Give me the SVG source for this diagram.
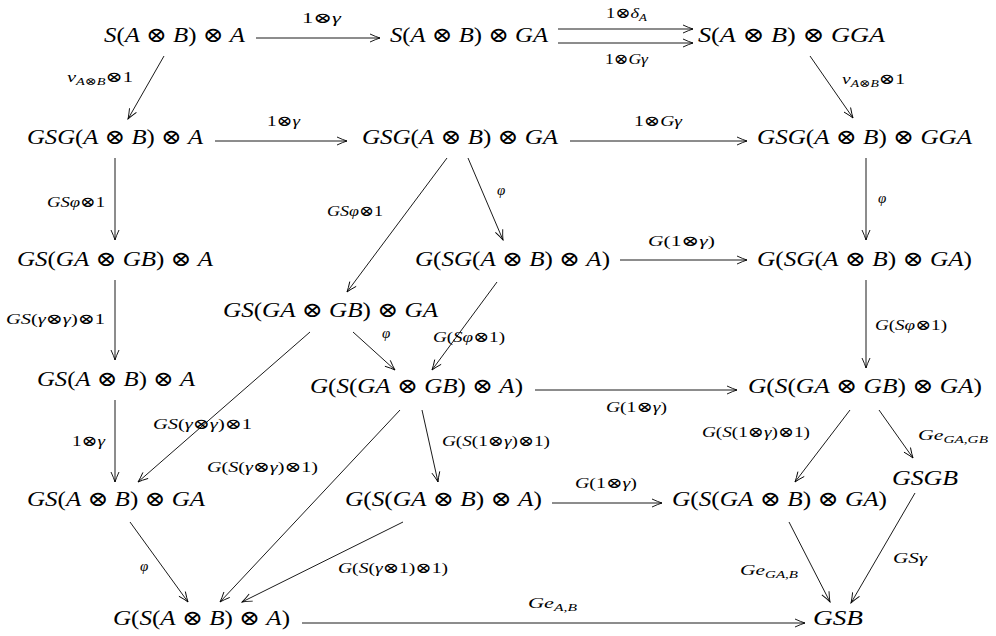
<svg xmlns="http://www.w3.org/2000/svg" width="996" height="636" viewBox="0 0 996 636">
  <defs>
    <style>
      text { font-family: 'Liberation Serif', 'Times New Roman', 'DejaVu Serif', serif; font-style: italic; fill: #000; }
      .n { font-size: 21px; }
      .l { font-size: 15px; }
      .u { font-style: normal; }
      .s { font-size: 10.5px; }
      .c line { stroke: #000; stroke-width: 0.9; fill: none; marker-end: url(#tip); }
    </style>
    <marker id="tip" markerUnits="userSpaceOnUse" viewBox="-11 -5 12 10" refX="0" refY="0" markerWidth="12" markerHeight="10" orient="auto">
      <path d="M -10,-4 Q -4,-1.2 0,0 Q -4,1.2 -10,4" fill="none" stroke="#000" stroke-width="0.9"/>
    </marker>
  </defs>
  <rect width="996" height="636" fill="#fff"/>

  <!-- connectors -->
  <g id="connectors" class="c">
    <line x1="256" y1="38" x2="380" y2="38"/>
    <line x1="558" y1="29" x2="693" y2="29"/>
    <line x1="558" y1="43" x2="693" y2="43"/>
    <line x1="164" y1="56" x2="128" y2="119"/>
    <line x1="810" y1="56" x2="853" y2="118"/>
    <line x1="215" y1="141" x2="347" y2="141"/>
    <line x1="570" y1="141" x2="747" y2="141"/>
    <line x1="115" y1="158" x2="115" y2="240"/>
    <line x1="447" y1="158" x2="347" y2="292"/>
    <line x1="468" y1="158" x2="503" y2="240"/>
    <line x1="866" y1="158" x2="866" y2="240"/>
    <line x1="620" y1="260" x2="747" y2="260"/>
    <line x1="115" y1="280" x2="115" y2="360"/>
    <line x1="866" y1="280" x2="866" y2="368"/>
    <line x1="310" y1="332" x2="138" y2="482"/>
    <line x1="353" y1="332" x2="395" y2="370"/>
    <line x1="497" y1="282" x2="432" y2="370"/>
    <line x1="535" y1="390" x2="737" y2="390"/>
    <line x1="115" y1="400" x2="115" y2="482"/>
    <line x1="400" y1="410" x2="220" y2="602"/>
    <line x1="422" y1="410" x2="438" y2="482"/>
    <line x1="850" y1="410" x2="795" y2="482"/>
    <line x1="879" y1="410" x2="913" y2="458"/>
    <line x1="552" y1="503" x2="662" y2="503"/>
    <line x1="130" y1="522" x2="188" y2="602"/>
    <line x1="403" y1="522" x2="242" y2="602"/>
    <line x1="789" y1="522" x2="830" y2="602"/>
    <line x1="915" y1="493" x2="851" y2="603"/>
    <line x1="302" y1="623" x2="805" y2="623"/>
  </g>

  <!-- connector labels -->
  <g id="labels" lengthAdjust="spacingAndGlyphs">
    <text class="l" x="302" y="23" textLength="39" lengthAdjust="spacingAndGlyphs"><tspan class="u">1⊗</tspan>γ</text>
    <text class="l" x="606" y="18" textLength="41" lengthAdjust="spacingAndGlyphs"><tspan class="u">1⊗</tspan>δ<tspan class="s" dy="3">A</tspan></text>
    <text class="l" x="605" y="64" textLength="43" lengthAdjust="spacingAndGlyphs"><tspan class="u">1⊗</tspan>Gγ</text>
    <text class="l" x="67" y="82" textLength="66" lengthAdjust="spacingAndGlyphs">ν<tspan class="s" dy="3">A</tspan><tspan class="s u">⊗</tspan><tspan class="s">B</tspan><tspan class="u" dy="-3">⊗1</tspan></text>
    <text class="l" x="267" y="126" textLength="33" lengthAdjust="spacingAndGlyphs"><tspan class="u">1⊗</tspan>γ</text>
    <text class="l" x="634" y="126" textLength="48" lengthAdjust="spacingAndGlyphs"><tspan class="u">1⊗</tspan>Gγ</text>
    <text class="l" x="842" y="84" textLength="63" lengthAdjust="spacingAndGlyphs">ν<tspan class="s" dy="3">A</tspan><tspan class="s u">⊗</tspan><tspan class="s">B</tspan><tspan class="u" dy="-3">⊗1</tspan></text>
    <text class="l" x="47" y="207" textLength="58" lengthAdjust="spacingAndGlyphs">GSφ<tspan class="u">⊗1</tspan></text>
    <text class="l" x="327" y="216" textLength="56" lengthAdjust="spacingAndGlyphs">GSφ<tspan class="u">⊗1</tspan></text>
    <text class="l" x="497" y="195">φ</text>
    <text class="l" x="648" y="246" textLength="67" lengthAdjust="spacingAndGlyphs">G<tspan class="u">(1⊗</tspan>γ<tspan class="u">)</tspan></text>
    <text class="l" x="878" y="203">φ</text>
    <text class="l" x="6" y="324" textLength="99" lengthAdjust="spacingAndGlyphs">GS<tspan class="u">(</tspan>γ<tspan class="u">⊗</tspan>γ<tspan class="u">)⊗1</tspan></text>
    <text class="l" x="875" y="330" textLength="72" lengthAdjust="spacingAndGlyphs">G<tspan class="u">(</tspan>Sφ<tspan class="u">⊗1)</tspan></text>
    <text class="l" x="382" y="338">φ</text>
    <text class="l" x="433" y="342" textLength="72" lengthAdjust="spacingAndGlyphs">G<tspan class="u">(</tspan>Sφ<tspan class="u">⊗1)</tspan></text>
    <text class="l" x="153" y="429" textLength="99" lengthAdjust="spacingAndGlyphs">GS<tspan class="u">(</tspan>γ<tspan class="u">⊗</tspan>γ<tspan class="u">)⊗1</tspan></text>
    <text class="l" x="72" y="446" textLength="33" lengthAdjust="spacingAndGlyphs"><tspan class="u">1⊗</tspan>γ</text>
    <text class="l" x="207" y="472" textLength="111" lengthAdjust="spacingAndGlyphs">G<tspan class="u">(</tspan>S<tspan class="u">(</tspan>γ<tspan class="u">⊗</tspan>γ<tspan class="u">)⊗1)</tspan></text>
    <text class="l" x="442" y="446" textLength="108" lengthAdjust="spacingAndGlyphs">G<tspan class="u">(</tspan>S<tspan class="u">(1⊗</tspan>γ<tspan class="u">)⊗1)</tspan></text>
    <text class="l" x="606" y="412" textLength="61" lengthAdjust="spacingAndGlyphs">G<tspan class="u">(1⊗</tspan>γ<tspan class="u">)</tspan></text>
    <text class="l" x="702" y="437" textLength="108" lengthAdjust="spacingAndGlyphs">G<tspan class="u">(</tspan>S<tspan class="u">(1⊗</tspan>γ<tspan class="u">)⊗1)</tspan></text>
    <text class="l" x="918" y="440" textLength="70" lengthAdjust="spacingAndGlyphs">Ge<tspan class="s" dy="3">GA<tspan class="u">,</tspan>GB</tspan></text>
    <text class="l" x="575" y="488" textLength="62" lengthAdjust="spacingAndGlyphs">G<tspan class="u">(1⊗</tspan>γ<tspan class="u">)</tspan></text>
    <text class="l" x="140" y="571">φ</text>
    <text class="l" x="338" y="573" textLength="110" lengthAdjust="spacingAndGlyphs">G<tspan class="u">(</tspan>S<tspan class="u">(</tspan>γ<tspan class="u">⊗1)⊗1)</tspan></text>
    <text class="l" x="740" y="575" textLength="58" lengthAdjust="spacingAndGlyphs">Ge<tspan class="s" dy="3">GA<tspan class="u">,</tspan>B</tspan></text>
    <text class="l" x="893" y="563" textLength="34" lengthAdjust="spacingAndGlyphs">GSγ</text>
    <text class="l" x="528" y="608" textLength="49" lengthAdjust="spacingAndGlyphs">Ge<tspan class="s" dy="3">A<tspan class="u">,</tspan>B</tspan></text>
  </g>

  <!-- objects (glyphs stretched to the measured box width) -->
  <g id="n1"><text class="n" x="104" y="42" textLength="141" lengthAdjust="spacingAndGlyphs">S<tspan class="u">(</tspan>A<tspan class="u"> ⊗ </tspan>B<tspan class="u">) ⊗ </tspan>A</text></g>
  <g id="n2"><text class="n" x="390" y="42" textLength="158" lengthAdjust="spacingAndGlyphs">S<tspan class="u">(</tspan>A<tspan class="u"> ⊗ </tspan>B<tspan class="u">) ⊗ </tspan>GA</text></g>
  <g id="n3"><text class="n" x="698" y="42" textLength="187" lengthAdjust="spacingAndGlyphs">S<tspan class="u">(</tspan>A<tspan class="u"> ⊗ </tspan>B<tspan class="u">) ⊗ </tspan>GGA</text></g>
  <g id="n4"><text class="n" x="27" y="144" textLength="176" lengthAdjust="spacingAndGlyphs">GSG<tspan class="u">(</tspan>A<tspan class="u"> ⊗ </tspan>B<tspan class="u">) ⊗ </tspan>A</text></g>
  <g id="n5"><text class="n" x="362" y="144" textLength="196" lengthAdjust="spacingAndGlyphs">GSG<tspan class="u">(</tspan>A<tspan class="u"> ⊗ </tspan>B<tspan class="u">) ⊗ </tspan>GA</text></g>
  <g id="n6"><text class="n" x="757" y="144" textLength="215" lengthAdjust="spacingAndGlyphs">GSG<tspan class="u">(</tspan>A<tspan class="u"> ⊗ </tspan>B<tspan class="u">) ⊗ </tspan>GGA</text></g>
  <g id="n7"><text class="n" x="17" y="266" textLength="196" lengthAdjust="spacingAndGlyphs">GS<tspan class="u">(</tspan>GA<tspan class="u"> ⊗ </tspan>GB<tspan class="u">) ⊗ </tspan>A</text></g>
  <g id="n8"><text class="n" x="223" y="317" textLength="215" lengthAdjust="spacingAndGlyphs">GS<tspan class="u">(</tspan>GA<tspan class="u"> ⊗ </tspan>GB<tspan class="u">) ⊗ </tspan>GA</text></g>
  <g id="n9"><text class="n" x="415" y="266" textLength="195" lengthAdjust="spacingAndGlyphs">G<tspan class="u">(</tspan>SG<tspan class="u">(</tspan>A<tspan class="u"> ⊗ </tspan>B<tspan class="u">) ⊗ </tspan>A<tspan class="u">)</tspan></text></g>
  <g id="n10"><text class="n" x="757" y="266" textLength="215" lengthAdjust="spacingAndGlyphs">G<tspan class="u">(</tspan>SG<tspan class="u">(</tspan>A<tspan class="u"> ⊗ </tspan>B<tspan class="u">) ⊗ </tspan>GA<tspan class="u">)</tspan></text></g>
  <g id="n11"><text class="n" x="37" y="386" textLength="158" lengthAdjust="spacingAndGlyphs">GS<tspan class="u">(</tspan>A<tspan class="u"> ⊗ </tspan>B<tspan class="u">) ⊗ </tspan>A</text></g>
  <g id="n12"><text class="n" x="310" y="393" textLength="213" lengthAdjust="spacingAndGlyphs">G<tspan class="u">(</tspan>S<tspan class="u">(</tspan>GA<tspan class="u"> ⊗ </tspan>GB<tspan class="u">) ⊗ </tspan>A<tspan class="u">)</tspan></text></g>
  <g id="n13"><text class="n" x="748" y="393" textLength="234" lengthAdjust="spacingAndGlyphs">G<tspan class="u">(</tspan>S<tspan class="u">(</tspan>GA<tspan class="u"> ⊗ </tspan>GB<tspan class="u">) ⊗ </tspan>GA<tspan class="u">)</tspan></text></g>
  <g id="n14"><text class="n" x="27" y="506" textLength="178" lengthAdjust="spacingAndGlyphs">GS<tspan class="u">(</tspan>A<tspan class="u"> ⊗ </tspan>B<tspan class="u">) ⊗ </tspan>GA</text></g>
  <g id="n15"><text class="n" x="345" y="506" textLength="197" lengthAdjust="spacingAndGlyphs">G<tspan class="u">(</tspan>S<tspan class="u">(</tspan>GA<tspan class="u"> ⊗ </tspan>B<tspan class="u">) ⊗ </tspan>A<tspan class="u">)</tspan></text></g>
  <g id="n16"><text class="n" x="672" y="506" textLength="215" lengthAdjust="spacingAndGlyphs">G<tspan class="u">(</tspan>S<tspan class="u">(</tspan>GA<tspan class="u"> ⊗ </tspan>B<tspan class="u">) ⊗ </tspan>GA<tspan class="u">)</tspan></text></g>
  <g id="n17"><text class="n" x="892" y="485" textLength="66" lengthAdjust="spacingAndGlyphs">GSGB</text></g>
  <g id="n18"><text class="n" x="113" y="625" textLength="177" lengthAdjust="spacingAndGlyphs">G<tspan class="u">(</tspan>S<tspan class="u">(</tspan>A<tspan class="u"> ⊗ </tspan>B<tspan class="u">) ⊗ </tspan>A<tspan class="u">)</tspan></text></g>
  <g id="n19"><text class="n" x="813" y="625" textLength="50" lengthAdjust="spacingAndGlyphs">GSB</text></g>
</svg>
